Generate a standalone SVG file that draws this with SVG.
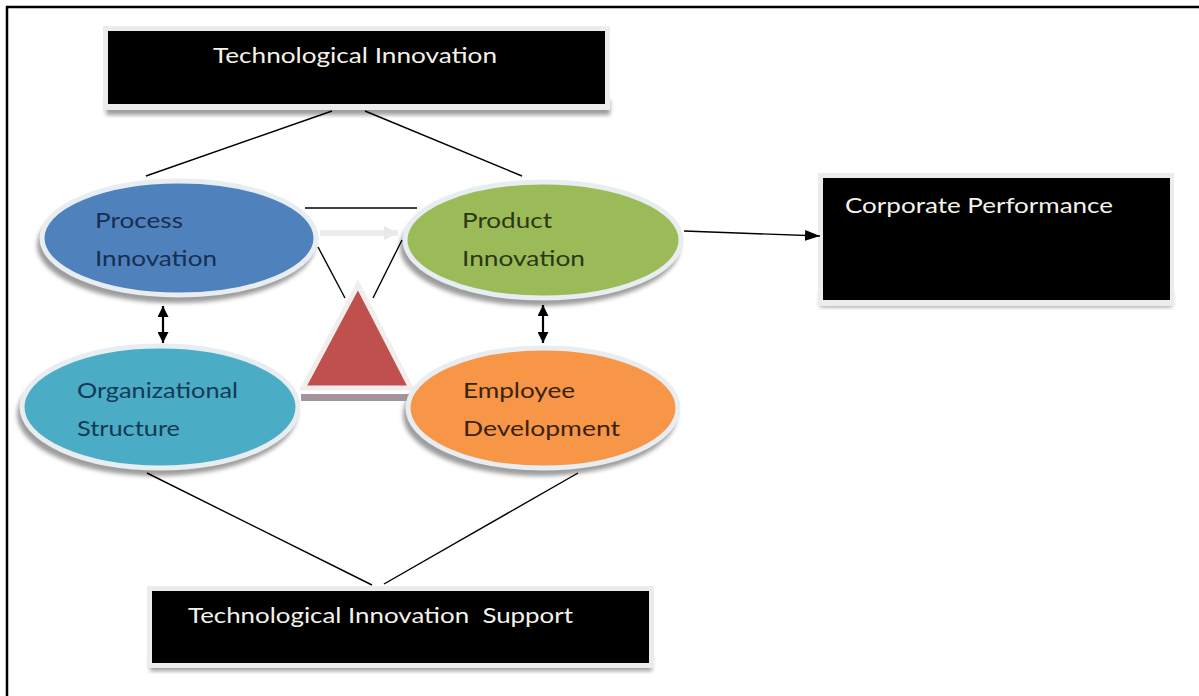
<svg xmlns="http://www.w3.org/2000/svg" width="1199" height="696" viewBox="0 0 1199 696">
  <defs>
    <filter id="blur" x="-10%" y="-10%" width="120%" height="130%">
      <feGaussianBlur stdDeviation="2"/>
    </filter>
    <marker id="arrowEnd" viewBox="0 0 10 10" refX="10" refY="5" markerWidth="11" markerHeight="11" markerUnits="userSpaceOnUse" orient="auto-start-reverse">
      <path d="M0,0 L10,5 L0,10 Z" fill="#000"/>
    </marker>
    <marker id="arrowBig" viewBox="0 0 14 10" refX="14" refY="5" markerWidth="15" markerHeight="11" markerUnits="userSpaceOnUse" orient="auto">
      <path d="M0,0 L14,5 L0,10 Z" fill="#000"/>
    </marker>
    <marker id="arrowFaint" viewBox="0 0 10 10" refX="10" refY="5" markerWidth="14" markerHeight="14" markerUnits="userSpaceOnUse" orient="auto">
      <path d="M0,0 L10,5 L0,10 Z" fill="#e9e9e9"/>
    </marker>
  </defs>
  <style>
    .frame { stroke: #000; stroke-width: 2.5; fill: none; }
    .glow { fill: #ececec; }
    .shadow { fill: #9c9c9c; filter: url(#blur); }
    .box { fill: #000; }
    .boxText { font-family: Lato, "Open Sans", "Liberation Sans", sans-serif; font-size: 21px; fill: #f4f2ea; }
    .ring { stroke: #e8edf1; stroke-width: 5; }
    .label { font-family: Lato, "Open Sans", "Liberation Sans", sans-serif; font-size: 21px; }
    .link { stroke: #000; stroke-width: 1.4; fill: none; }
    .dbl { stroke: #000; stroke-width: 2.2; fill: none; }
  </style>

  <rect width="1199" height="696" fill="#fff"/>

  <!-- page frame: top and left rules -->
  <path class="frame" d="M7,696 L7,7 L1199,7"/>

  <!-- Technological Innovation -->
  <g id="tech-innovation">
    <rect class="shadow" x="106" y="100" width="504" height="15"/>
    <rect class="glow" x="103" y="26" width="507" height="84"/>
    <rect class="box" x="108" y="31" width="497" height="73"/>
    <text class="boxText" x="213" y="63" textLength="284" lengthAdjust="spacingAndGlyphs">Technological Innovation</text>
  </g>

  <!-- Corporate Performance -->
  <g id="corporate-performance">
    <rect class="shadow" x="820" y="292" width="352" height="15"/>
    <rect class="glow" x="818" y="173" width="356" height="133"/>
    <rect class="box" x="823" y="178" width="347" height="122"/>
    <text class="boxText" x="845" y="213" textLength="268" lengthAdjust="spacingAndGlyphs">Corporate Performance</text>
  </g>

  <!-- Technological Innovation Support -->
  <g id="tech-innovation-support">
    <rect class="shadow" x="150" y="656" width="502" height="15"/>
    <rect class="glow" x="147" y="586" width="507" height="82"/>
    <rect class="box" x="152" y="591" width="497" height="72"/>
    <text class="boxText" x="188" y="623" textLength="385" lengthAdjust="spacingAndGlyphs" style="white-space:pre">Technological Innovation  Support</text>
  </g>

  <!-- Process Innovation -->
  <g id="process-innovation">
    <ellipse class="shadow" cx="176" cy="245" rx="139" ry="58"/>
    <ellipse class="ring" cx="179" cy="238" rx="137" ry="57" fill="#4f81bd"/>
    <text class="label" fill="#162f52" x="95" y="228" textLength="88" lengthAdjust="spacingAndGlyphs">Process</text>
    <text class="label" fill="#162f52" x="95" y="266" textLength="122" lengthAdjust="spacingAndGlyphs">Innovation</text>
  </g>

  <!-- Product Innovation -->
  <g id="product-innovation">
    <ellipse class="shadow" cx="540" cy="247" rx="140" ry="59"/>
    <ellipse class="ring" cx="543" cy="240" rx="138" ry="58" fill="#9bbb59"/>
    <text class="label" fill="#2c3814" x="462" y="228" textLength="90" lengthAdjust="spacingAndGlyphs">Product</text>
    <text class="label" fill="#2c3814" x="462" y="266" textLength="123" lengthAdjust="spacingAndGlyphs">Innovation</text>
  </g>

  <!-- central triangle -->
  <g id="triangle">
    <rect x="301" y="394" width="110" height="7" fill="#a3939a"/>
    <polygon points="358,285 303,388 411,388" fill="#c0504d" stroke="#f3eeee" stroke-width="5" stroke-linejoin="miter"/>
  </g>

  <!-- Organizational Structure -->
  <g id="organizational-structure">
    <ellipse class="shadow" cx="157" cy="414" rx="140" ry="62"/>
    <ellipse class="ring" cx="160" cy="407" rx="138" ry="61" fill="#4bacc6"/>
    <text class="label" fill="#123a55" x="77" y="398" textLength="161" lengthAdjust="spacingAndGlyphs">Organizational</text>
    <text class="label" fill="#123a55" x="77" y="436" textLength="103" lengthAdjust="spacingAndGlyphs">Structure</text>
  </g>

  <!-- Employee Development -->
  <g id="employee-development">
    <ellipse class="shadow" cx="540" cy="415" rx="137" ry="61"/>
    <ellipse class="ring" cx="543" cy="408" rx="135" ry="60" fill="#f79646"/>
    <text class="label" fill="#3b220f" x="463" y="398" textLength="112" lengthAdjust="spacingAndGlyphs">Employee</text>
    <text class="label" fill="#3b220f" x="463" y="436" textLength="157" lengthAdjust="spacingAndGlyphs">Development</text>
  </g>

  <!-- connectors -->
  <g id="connectors">
    <line class="link" x1="332" y1="111" x2="146" y2="176"/>
    <line class="link" x1="365" y1="111" x2="522" y2="176"/>
    <line class="link" x1="305" y1="208" x2="417" y2="208"/>
    <line x1="320" y1="233" x2="398" y2="233" stroke="#ececec" stroke-width="6" marker-end="url(#arrowFaint)"/>
    <line class="link" x1="318" y1="247" x2="345" y2="298"/>
    <line class="link" x1="402" y1="240" x2="373" y2="298"/>
    <line class="dbl" x1="163" y1="306" x2="163" y2="343" marker-start="url(#arrowEnd)" marker-end="url(#arrowEnd)"/>
    <line class="dbl" x1="543" y1="305" x2="543" y2="343" marker-start="url(#arrowEnd)" marker-end="url(#arrowEnd)"/>
    <line class="link" x1="684" y1="231" x2="820" y2="236" marker-end="url(#arrowBig)"/>
    <line class="link" x1="147" y1="473" x2="372" y2="585"/>
    <line class="link" x1="578" y1="473" x2="384" y2="584"/>
  </g>
</svg>
